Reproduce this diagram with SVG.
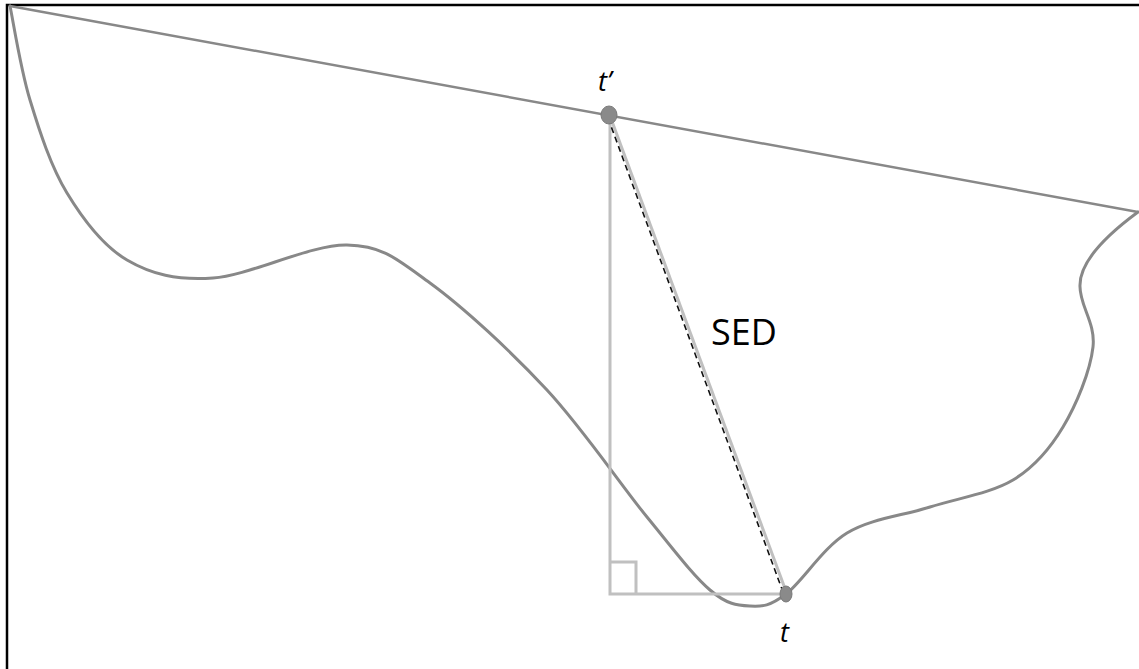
<svg xmlns="http://www.w3.org/2000/svg" width="1139" height="669" viewBox="0 0 1139 669">
<style>
.frame{stroke:#000;stroke-width:2.5;fill:none}
.dark{stroke:#888;fill:none;stroke-linecap:round;stroke-linejoin:round}
.light{stroke:#c0c0c0;stroke-width:3;fill:none}
.dash{stroke:#111;stroke-width:1.6;stroke-dasharray:6,4;fill:none}
.dot{fill:#8a8a8a;stroke:#7a7a7a;stroke-width:1}
.lbl{font-family:"Open Sans","Liberation Sans",sans-serif;fill:#000}
</style>
<rect width="1139" height="669" fill="#fff"/>
<g id="frame">
<path class="frame" d="M7,669 V5 H1139"/>
</g>
<g id="connectors">
<path id="chord" class="dark" stroke-width="2.5" d="M10,6 L1138,212"/>
<path id="trajectory" class="dark" stroke-width="3" d="M10,6 C13.3,21.7 20.5,68.8 30,100 C39.5,131.2 50.8,166.3 67,193 C83.2,219.7 102.7,245.8 127,260 C151.3,274.2 176.3,280.5 213,278 C249.7,275.5 310.8,244.2 347,245 C383.2,245.8 396.7,258.8 430,283 C463.3,307.2 510.8,351 547,390 C583.2,429 619.8,483.7 647,517 C674.2,550.3 692.8,575.2 710,590 C727.2,604.8 737.3,605.3 750,606 C762.7,606.7 769.8,606.2 786,594 C802.2,581.8 823,547.5 847,533 C871,518.5 902.3,515.8 930,507 C957.7,498.2 990.8,493.3 1013,480 C1035.2,466.7 1049.7,449.2 1063,427 C1076.3,404.8 1090.2,371.5 1093,347 C1095.8,322.5 1079,305 1080,285 C1080,265 1100,240 1138,212"/>
<path id="vertical" class="light" d="M610,115 V594 H786"/>
<path id="rightangle" class="light" d="M610,562 H636 V594"/>
<path id="sed-line" class="light" d="M610,116 L787,594"/>
<path id="sed-dash" class="dash" d="M608,118 L783,592"/>
</g>
<g id="node-tprime">
<ellipse class="dot" cx="609" cy="115" rx="8" ry="9"/>
<text class="lbl" x="598" y="91" font-size="27" font-style="italic">t’</text>
</g>
<g id="node-t">
<ellipse class="dot" cx="786" cy="594" rx="6" ry="8"/>
<text class="lbl" x="780" y="642" font-size="27" font-style="italic">t</text>
</g>
<g id="label-sed">
<text class="lbl" x="711" y="345" font-size="36">SED</text>
</g>
</svg>
